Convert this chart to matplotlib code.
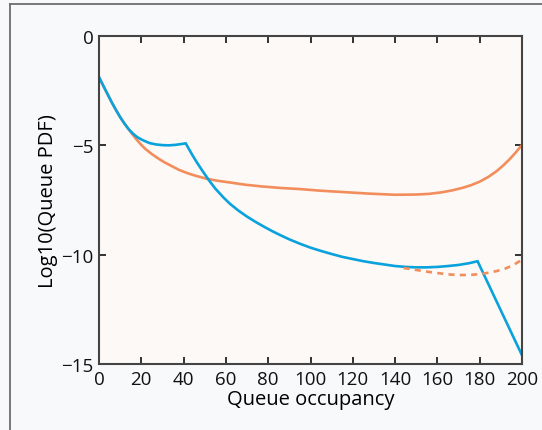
import numpy as np
import matplotlib.pyplot as plt
from matplotlib.lines import Line2D

# blue curve (solid)
blue_x = [0, 2, 4, 6, 8, 10, 12, 14, 16, 18, 20, 22, 24, 27, 30, 33, 36, 39, 41,
          42, 44, 46, 49, 52, 55, 59, 62, 66, 70, 74, 78, 82, 86, 90, 95,
          100, 105, 110, 115, 120, 125, 130, 135, 140, 145, 150, 155, 160, 165,
          170, 175, 179, 200]
blue_y = [-1.88, -2.27, -2.65, -3.03, -3.38, -3.71, -4.0, -4.26, -4.46, -4.62, -4.73,
          -4.82, -4.9, -4.96, -4.99, -5.0, -4.98, -4.94, -4.91,
          -5.08, -5.42, -5.74, -6.18, -6.6, -6.98, -7.4, -7.68, -7.99, -8.26, -8.5, -8.72,
          -8.93, -9.12, -9.3, -9.5,
          -9.68, -9.83, -9.97, -10.1, -10.2, -10.3, -10.38, -10.45, -10.52, -10.56, -10.58,
          -10.58, -10.56, -10.52, -10.47, -10.39, -10.3, -14.6]

# orange curve (solid)
orange_x = [0, 2, 4, 6, 8, 10, 12, 14, 16, 18, 20, 22, 25, 28, 31, 34, 38, 42, 46, 51,
            56, 62, 69, 77, 86, 95, 104, 116, 128, 140, 150, 156, 162, 167, 172, 176,
            180, 184, 188, 191, 194, 197, 200]
orange_y = [-1.88, -2.27, -2.65, -3.03, -3.38, -3.71, -4.0, -4.26, -4.52, -4.76, -4.98,
            -5.17, -5.4, -5.6, -5.78, -5.93, -6.13, -6.28, -6.4, -6.53,
            -6.62, -6.7, -6.8, -6.88, -6.95, -7.0, -7.07, -7.14, -7.21, -7.26, -7.25,
            -7.22, -7.15, -7.06, -6.94, -6.82,
            -6.66, -6.45, -6.18, -5.93, -5.65, -5.33, -4.98]

# orange dashed tail
dash_x = [144, 148, 152, 156, 160, 165, 170, 175, 180, 184, 188, 192, 196, 200]
dash_y = [-10.61, -10.67, -10.73, -10.79, -10.84, -10.9, -10.93, -10.93, -10.89,
          -10.83, -10.75, -10.64, -10.47, -10.23]

xticks = [0, 20, 40, 60, 80, 100, 120, 140, 160, 180, 200]
yticks = [0, -5, -10, -15]
ytick_labels = ['0', '\u22125', '\u221210', '\u221215']

blue = '#0aa2dc'
orange = '#f28d5c'

plt.rcParams['font.family'] = ['Open Sans', 'DejaVu Sans']

fig = plt.figure(figsize=(5.42, 4.31), dpi=100)
fig.patch.set_facecolor('#f8f9fb')
ax = fig.add_axes([99/542, 1-365/431, 423/542, 328/431])
ax.set_facecolor('#fdf9f6')

ax.plot(orange_x, orange_y, color=orange, lw=1.9, solid_joinstyle='round')
ax.plot(blue_x, blue_y, color=blue, lw=1.9, solid_joinstyle='miter')
ax.plot(dash_x, dash_y, color=orange, lw=1.9, dashes=(2.3, 2.0))

ax.set_xlim(0, 200)
ax.set_ylim(-15, 0)
ax.set_xticks(xticks)
ax.set_yticks(yticks)
ax.set_yticklabels(ytick_labels)
ax.tick_params(direction='in', top=True, right=True, length=5, width=1.2,
               labelsize=13.5, pad=4, colors='#111111')
for s in ax.spines.values():
    s.set_color('#444444')
    s.set_linewidth(1.5)

ax.set_xlabel('Queue occupancy', fontsize=14.5, labelpad=1)
ax.set_ylabel('Log10(Queue PDF)', fontsize=14.5, labelpad=2)

# figure frame
fig.add_artist(Line2D([10/542, 10/542], [0, 1-4.5/431], transform=fig.transFigure,
                      color='#6e6e6e', lw=1.3))
fig.add_artist(Line2D([10/542, 1], [1-4.5/431, 1-4.5/431], transform=fig.transFigure,
                      color='#6e6e6e', lw=1.3))

fig.savefig('out.png', dpi=100, facecolor=fig.get_facecolor())
